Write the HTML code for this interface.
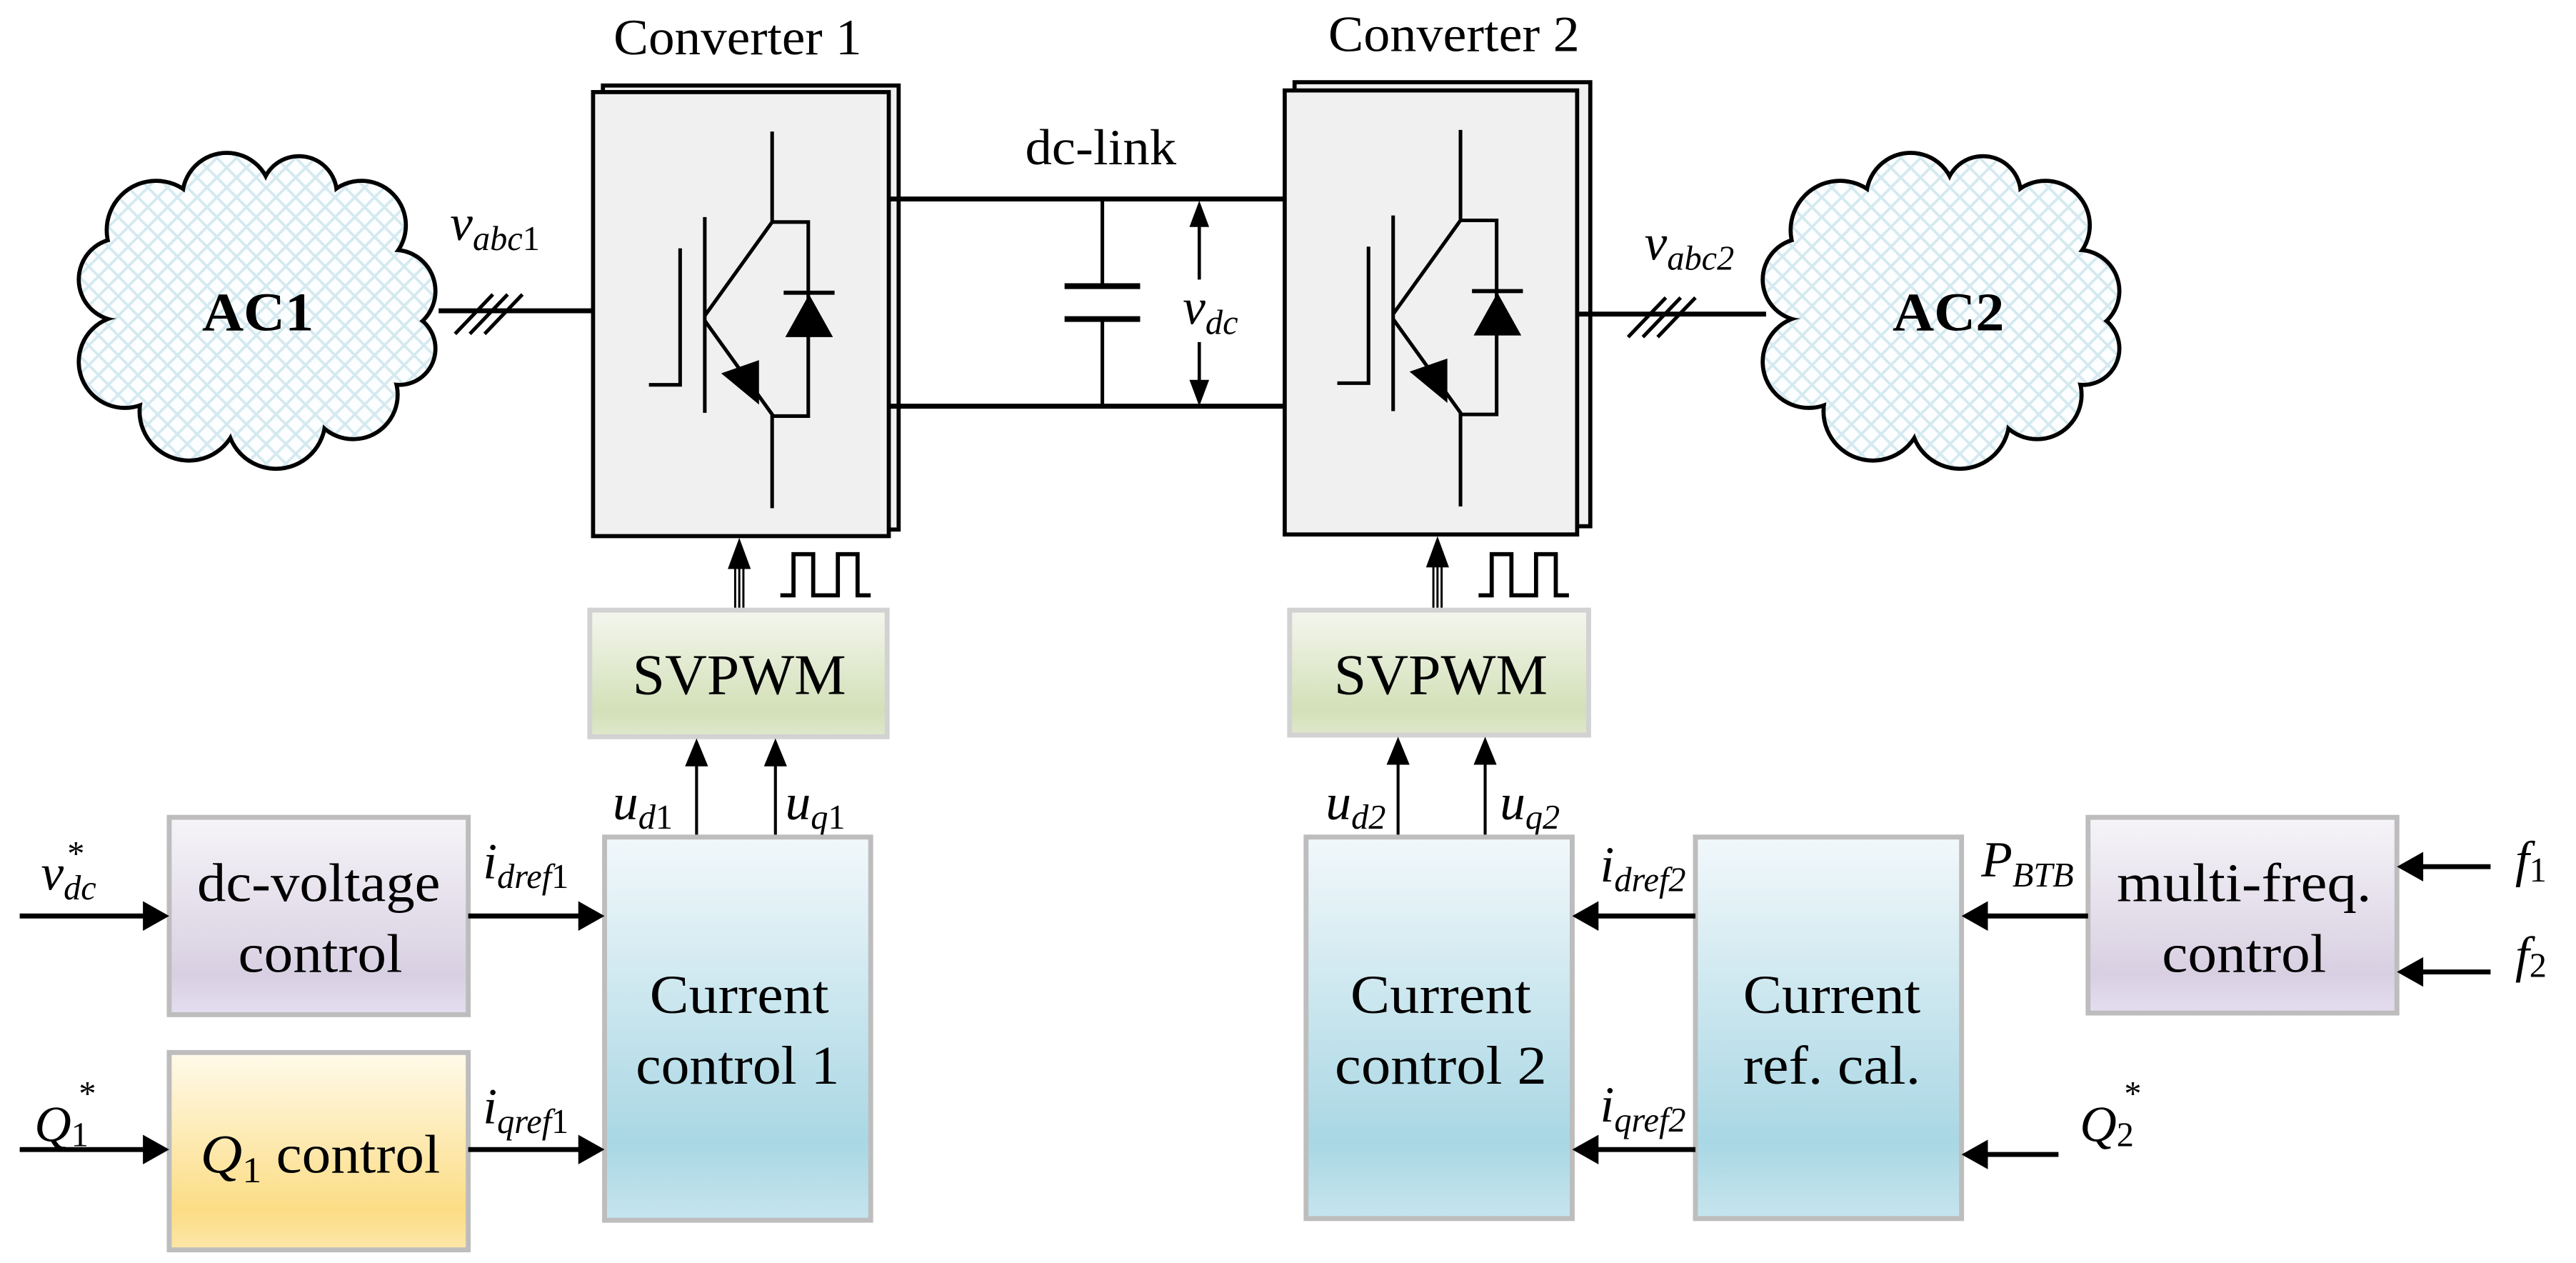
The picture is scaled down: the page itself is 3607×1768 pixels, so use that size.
<!DOCTYPE html>
<html><head><meta charset="utf-8"><style>
html,body{margin:0;padding:0;background:#fff;}
svg{display:block;}
text{font-family:"Liberation Serif",serif;fill:#000;}
</style></head><body>
<svg width="3607" height="1768" viewBox="0 0 1568 768" preserveAspectRatio="none" xmlns="http://www.w3.org/2000/svg">
<defs>
<pattern id="hatch" width="12" height="12" patternUnits="userSpaceOnUse">
<rect width="12" height="12" fill="#fdfeff"/>
<path d="M0 0L12 12M12 0L0 12" stroke="#d4e9f0" stroke-width="1.6"/>
</pattern>
<linearGradient id="gGreen" x1="0" y1="0" x2="0" y2="1"><stop offset="0" stop-color="#f4f6ee"/><stop offset="0.8" stop-color="#d3e0b8"/><stop offset="1" stop-color="#dfe8cc"/></linearGradient>
<linearGradient id="gPurple" x1="0" y1="0" x2="0" y2="1"><stop offset="0" stop-color="#f6f4f8"/><stop offset="0.8" stop-color="#d8d0e2"/><stop offset="1" stop-color="#e4def0"/></linearGradient>
<linearGradient id="gYellow" x1="0" y1="0" x2="0" y2="1"><stop offset="0" stop-color="#fffaea"/><stop offset="0.8" stop-color="#fcdd85"/><stop offset="1" stop-color="#fde6a8"/></linearGradient>
<linearGradient id="gBlue" x1="0" y1="0" x2="0" y2="1"><stop offset="0" stop-color="#f2f8fb"/><stop offset="0.8" stop-color="#a9d7e4"/><stop offset="1" stop-color="#c6e5ee"/></linearGradient>
<g id="cloud">
<g fill="none" stroke="#000" stroke-width="2.6">
<circle cx="95" cy="140" r="30"/><circle cx="138" cy="120" r="27"/><circle cx="182" cy="118" r="23"/><circle cx="220" cy="137" r="27"/><circle cx="240" cy="177" r="25"/><circle cx="243" cy="212" r="22"/><circle cx="215" cy="240" r="27"/><circle cx="168" cy="255" r="30"/><circle cx="115" cy="250" r="30"/><circle cx="76" cy="220" r="28"/><circle cx="73" cy="170" r="25"/>
</g>
<g fill="url(#hatch)">
<circle cx="95" cy="140" r="28.8"/><circle cx="138" cy="120" r="25.8"/><circle cx="182" cy="118" r="21.8"/><circle cx="220" cy="137" r="25.8"/><circle cx="240" cy="177" r="23.8"/><circle cx="243" cy="212" r="20.8"/><circle cx="215" cy="240" r="25.8"/><circle cx="168" cy="255" r="28.8"/><circle cx="115" cy="250" r="28.8"/><circle cx="76" cy="220" r="26.8"/><circle cx="73" cy="170" r="23.8"/>
<ellipse cx="157" cy="187" rx="80" ry="72"/>
</g>
</g>
<g id="igbt" fill="none" stroke="#000" stroke-width="2.2">
<path d="M0 80V135L-41 192M-41 132V251M-56 151V234H-75"/>
<path d="M-41 195L0 252V309"/>
<path d="M0 135H22V253H0"/>
<path d="M7 178H38" stroke-width="2.5"/>
<polygon points="22.5,179 8,205 37,205" fill="#000" stroke="none"/>
<polygon points="-31,227 -8,219 -8,246" fill="#000" stroke="none"/>
</g>
</defs>

<use href="#cloud"/>
<use href="#cloud" transform="translate(1025,0)"/>
<text x="157" y="201" font-size="33" font-weight="bold" text-anchor="middle" textLength="68" lengthAdjust="spacingAndGlyphs">AC1</text>
<text x="1186" y="201" font-size="33" font-weight="bold" text-anchor="middle" textLength="68" lengthAdjust="spacingAndGlyphs">AC2</text>

<text x="449" y="33" font-size="31" text-anchor="middle" textLength="151" lengthAdjust="spacingAndGlyphs">Converter 1</text>
<rect x="367" y="52" width="180" height="270" fill="#f0f0f0" stroke="#000" stroke-width="2.5"/>
<rect x="361" y="56" width="180" height="270" fill="#f0f0f0" stroke="#000" stroke-width="2.5"/>
<use href="#igbt" transform="translate(470,0)"/>
<text x="885" y="31" font-size="31" text-anchor="middle" textLength="153" lengthAdjust="spacingAndGlyphs">Converter 2</text>
<rect x="788" y="50" width="180" height="270" fill="#f0f0f0" stroke="#000" stroke-width="2.5"/>
<rect x="782" y="55" width="178" height="270" fill="#f0f0f0" stroke="#000" stroke-width="2.5"/>
<use href="#igbt" transform="translate(889,-1)"/>

<path d="M267 189H361M960 191H1075" stroke="#000" stroke-width="3"/>
<path d="M277 203L300 179M286 203L309 179M295 203L318 179" stroke="#000" stroke-width="2.2"/>
<path d="M991 205L1014 181M1000 205L1023 181M1009 205L1032 181" stroke="#000" stroke-width="2.2"/>
<text x="274" y="146" font-size="31" font-style="italic">v<tspan font-size="21" dy="6">abc</tspan><tspan font-size="21" font-style="normal">1</tspan></text>
<text x="1001" y="158" font-size="31" font-style="italic">v<tspan font-size="21" dy="6">abc</tspan><tspan font-size="21">2</tspan></text>

<text x="670" y="100" font-size="31" text-anchor="middle" textLength="92" lengthAdjust="spacingAndGlyphs">dc-link</text>
<path d="M541 121H782M541 247H782" stroke="#000" stroke-width="3"/>
<path d="M671 121V174M671 194V247" stroke="#000" stroke-width="2.2"/>
<path d="M648 174H694M648 194H694" stroke="#000" stroke-width="3.5"/>
<path d="M730 170V125M730 208V244" stroke="#000" stroke-width="2" />
<polygon points="730,122 724,138 736,138"/>
<polygon points="730,247 724,231 736,231"/>
<text x="720" y="197" font-size="31" font-style="italic">v<tspan font-size="21" dy="6">dc</tspan></text>

<path d="M447.5 371V340M450 371V340M452.5 371V340" stroke="#000" stroke-width="1.3"/>
<polygon points="450,327 443,346 457,346"/>
<path d="M475 362H483V337H495V362H510V337H522V362H530" fill="none" stroke="#000" stroke-width="2.5"/>
<path d="M872.5 371V340M875 371V340M877.5 371V340" stroke="#000" stroke-width="1.3"/>
<polygon points="875,326 868,345 882,345"/>
<path d="M900 362H908V337H920V362H935V337H947V362H955" fill="none" stroke="#000" stroke-width="2.5"/>

<rect x="359" y="371" width="181" height="77" fill="url(#gGreen)" stroke="#d2d2d2" stroke-width="3"/>
<text x="450" y="422" font-size="35" text-anchor="middle" textLength="130" lengthAdjust="spacingAndGlyphs">SVPWM</text>
<rect x="785" y="371" width="182" height="76" fill="url(#gGreen)" stroke="#d2d2d2" stroke-width="3"/>
<text x="877" y="422" font-size="35" text-anchor="middle" textLength="130" lengthAdjust="spacingAndGlyphs">SVPWM</text>

<g stroke="#000" stroke-width="1.8">
<path d="M424 509V462M472 509V462M851 509V462M904 509V462"/>
</g>
<polygon points="424,449 417,466 431,466"/><polygon points="472,449 465,466 479,466"/>
<polygon points="851,448 844,465 858,465"/><polygon points="904,448 897,465 911,465"/>
<text x="373" y="498" font-size="31" font-style="italic">u<tspan font-size="21" dy="6">d</tspan><tspan font-size="21" font-style="normal">1</tspan></text>
<text x="478" y="498" font-size="31" font-style="italic">u<tspan font-size="21" dy="6">q</tspan><tspan font-size="21" font-style="normal">1</tspan></text>
<text x="807" y="498" font-size="31" font-style="italic">u<tspan font-size="21" dy="6">d2</tspan></text>
<text x="913" y="498" font-size="31" font-style="italic">u<tspan font-size="21" dy="6">q2</tspan></text>

<rect x="103" y="497" width="182" height="120" fill="url(#gPurple)" stroke="#bdbdbd" stroke-width="3"/>
<text x="194" y="548" font-size="33" text-anchor="middle" textLength="148" lengthAdjust="spacingAndGlyphs">dc-voltage</text>
<text x="195" y="591" font-size="33" text-anchor="middle" textLength="100" lengthAdjust="spacingAndGlyphs">control</text>
<rect x="103" y="640" width="182" height="120" fill="url(#gYellow)" stroke="#bdbdbd" stroke-width="3"/>
<text x="122" y="713" font-size="33" textLength="146" lengthAdjust="spacingAndGlyphs"><tspan font-style="italic">Q</tspan><tspan font-size="22" dy="6">1</tspan><tspan dy="-6"> control</tspan></text>
<rect x="368" y="509" width="162" height="233" fill="url(#gBlue)" stroke="#bdbdbd" stroke-width="3"/>
<text x="450" y="616" font-size="33" text-anchor="middle" textLength="109" lengthAdjust="spacingAndGlyphs">Current</text>
<text x="449" y="659" font-size="33" text-anchor="middle" textLength="124" lengthAdjust="spacingAndGlyphs">control 1</text>

<rect x="795" y="509" width="162" height="232" fill="url(#gBlue)" stroke="#bdbdbd" stroke-width="3"/>
<text x="877" y="616" font-size="33" text-anchor="middle" textLength="110" lengthAdjust="spacingAndGlyphs">Current</text>
<text x="877" y="659" font-size="33" text-anchor="middle" textLength="129" lengthAdjust="spacingAndGlyphs">control 2</text>
<rect x="1032" y="509" width="162" height="232" fill="url(#gBlue)" stroke="#bdbdbd" stroke-width="3"/>
<text x="1115" y="616" font-size="33" text-anchor="middle" textLength="108" lengthAdjust="spacingAndGlyphs">Current</text>
<text x="1115" y="659" font-size="33" text-anchor="middle" textLength="108" lengthAdjust="spacingAndGlyphs">ref. cal.</text>
<rect x="1271" y="497" width="188" height="119" fill="url(#gPurple)" stroke="#bdbdbd" stroke-width="3"/>
<text x="1366" y="548" font-size="33" text-anchor="middle" textLength="155" lengthAdjust="spacingAndGlyphs">multi-freq.</text>
<text x="1366" y="591" font-size="33" text-anchor="middle" textLength="100" lengthAdjust="spacingAndGlyphs">control</text>

<g stroke="#000" stroke-width="3">
<path d="M12 557H90M285 557H355M12 699H90M285 699H355"/>
<path d="M1271 557H1208M1032 557H971M1032 699H971M1253 702H1208M1516 527H1473M1516 591H1473"/>
</g>
<polygon points="103,557 87,548 87,566"/><polygon points="368,557 352,548 352,566"/>
<polygon points="103,699 87,690 87,708"/><polygon points="368,699 352,690 352,708"/>
<polygon points="1194,557 1210,548 1210,566"/><polygon points="957,557 973,548 973,566"/>
<polygon points="957,699 973,690 973,708"/><polygon points="1194,702 1210,693 1210,711"/>
<polygon points="1459,527 1475,518 1475,536"/><polygon points="1459,591 1475,582 1475,600"/>

<text x="25" y="541" font-size="31" font-style="italic">v<tspan font-size="21" dy="6">dc</tspan></text>
<text x="41" y="526" font-size="21">*</text>
<text x="21" y="694" font-size="31" font-style="italic">Q<tspan font-size="21" font-style="normal" dy="3">1</tspan></text>
<text x="48" y="672" font-size="21">*</text>
<text x="294" y="534" font-size="31" font-style="italic">i<tspan font-size="21" dy="6">dref</tspan><tspan font-size="21" font-style="normal">1</tspan></text>
<text x="294" y="683" font-size="31" font-style="italic">i<tspan font-size="21" dy="6">qref</tspan><tspan font-size="21" font-style="normal">1</tspan></text>
<text x="974" y="536" font-size="31" font-style="italic">i<tspan font-size="21" dy="6">dref2</tspan></text>
<text x="974" y="682" font-size="31" font-style="italic">i<tspan font-size="21" dy="6">qref2</tspan></text>
<text x="1206" y="533" font-size="31" font-style="italic">P<tspan font-size="21" dy="6">BTB</tspan></text>
<text x="1266" y="694" font-size="31" font-style="italic">Q<tspan font-size="21" font-style="normal" dy="3">2</tspan></text>
<text x="1293" y="672" font-size="21">*</text>
<text x="1531" y="533" font-size="31" font-style="italic">f<tspan font-size="21" font-style="normal" dy="3">1</tspan></text>
<text x="1531" y="591" font-size="31" font-style="italic">f<tspan font-size="21" font-style="normal" dy="3">2</tspan></text>
</svg>
</body></html>
